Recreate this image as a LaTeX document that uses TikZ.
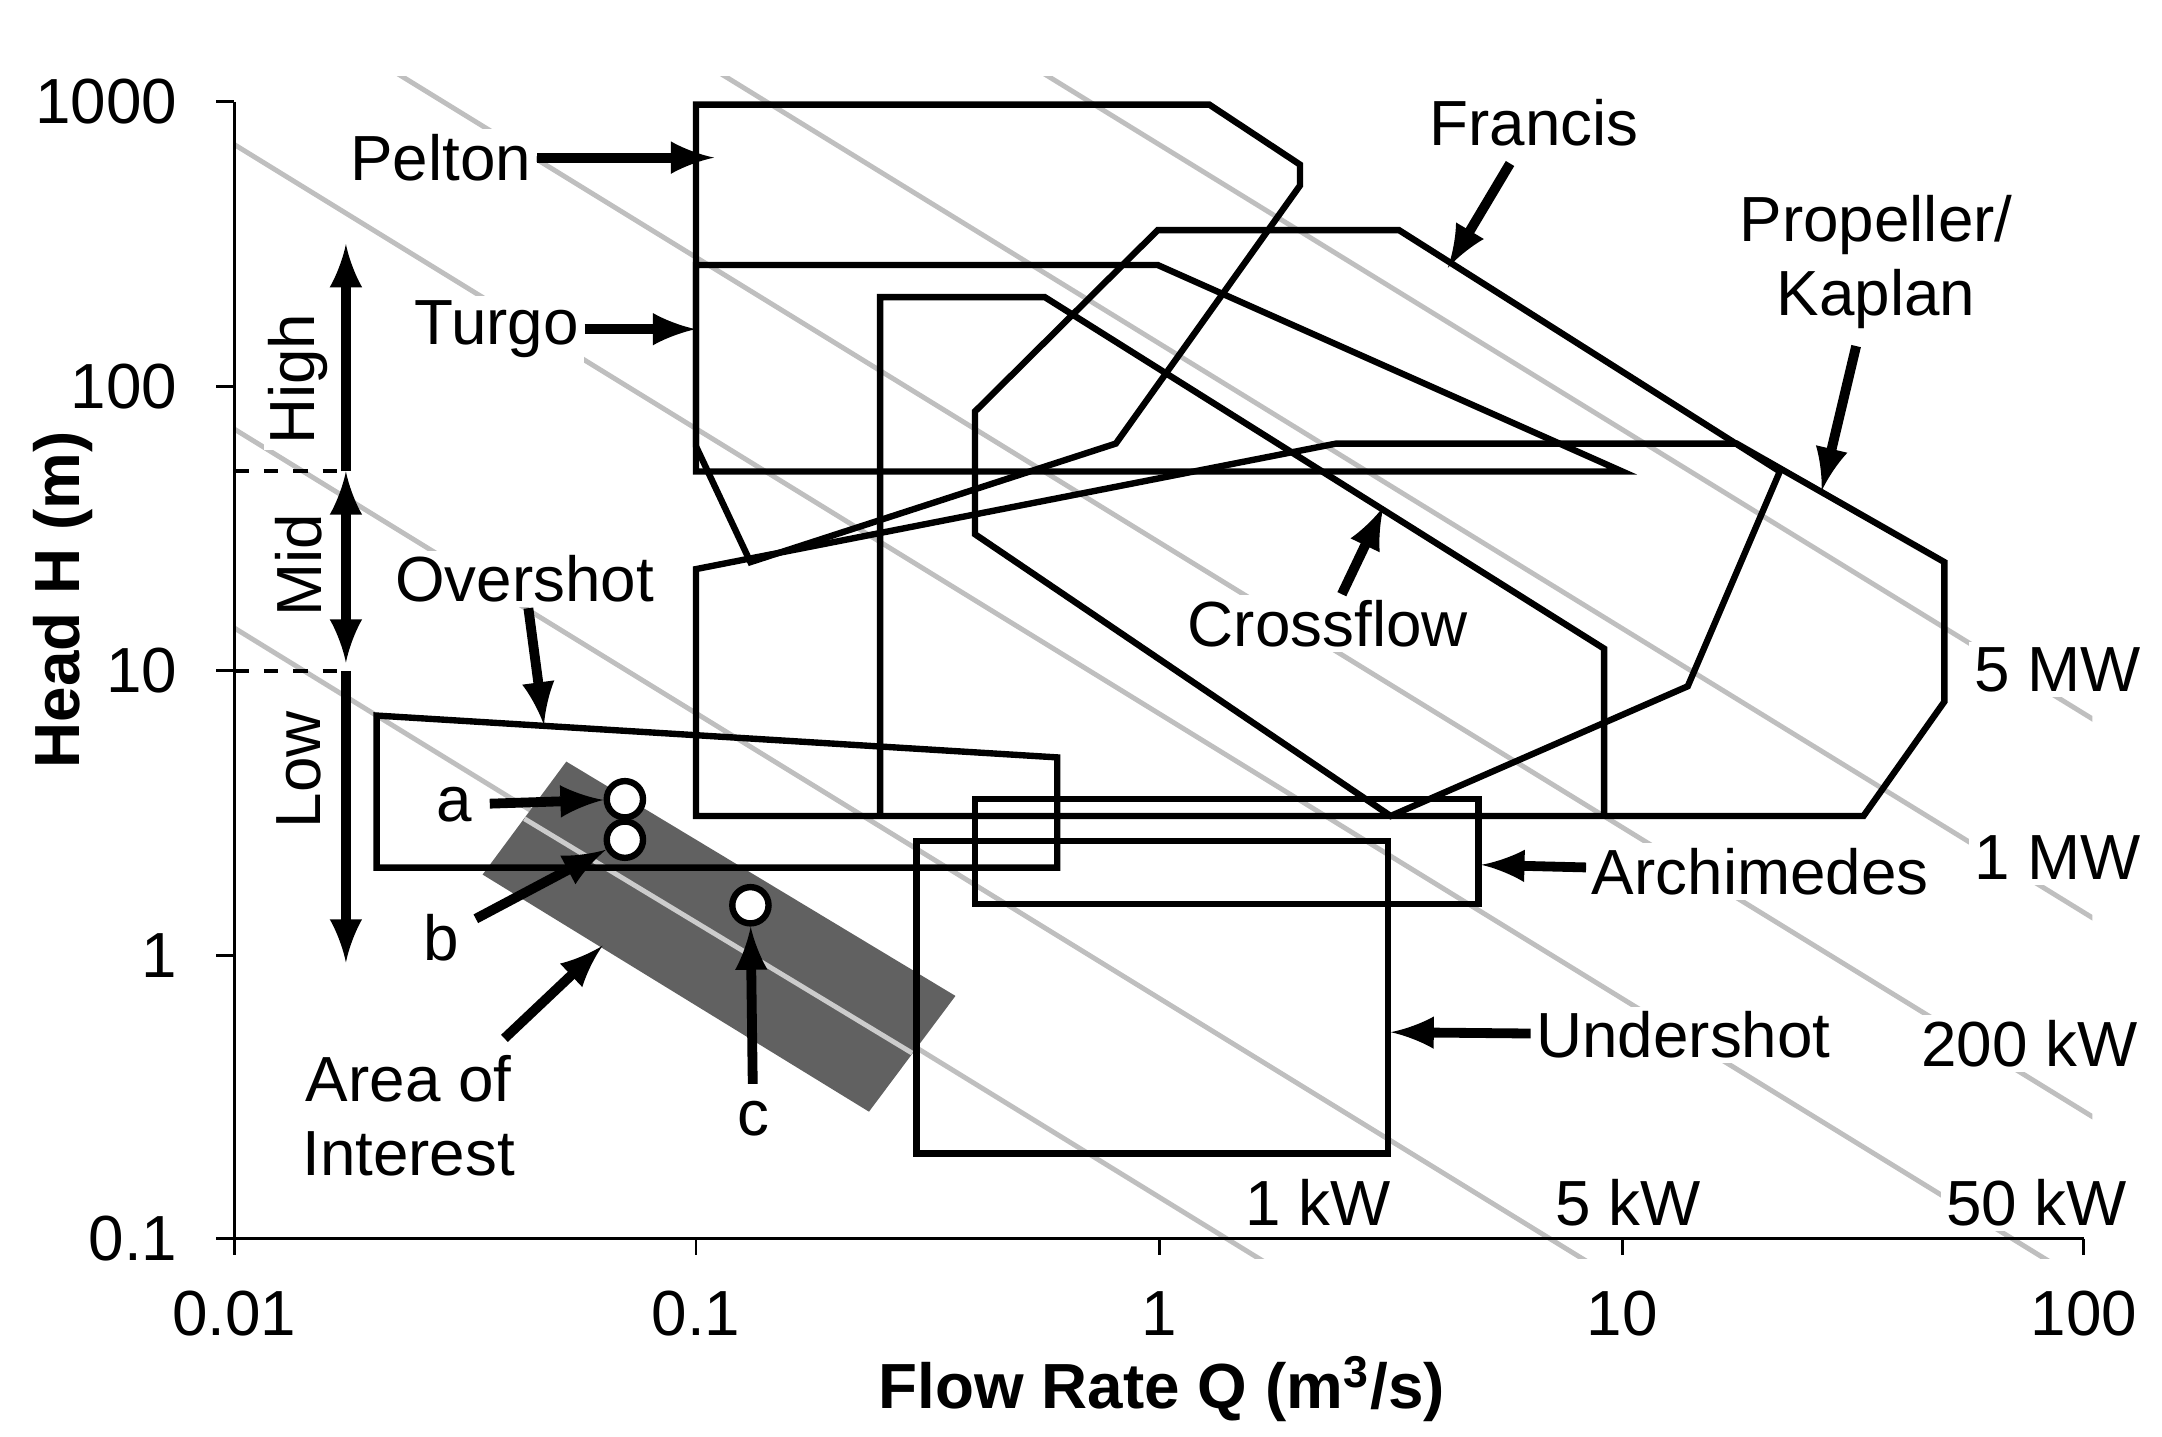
\documentclass[tikz,border=0pt]{standalone}
\usepackage{fontspec}
\setmainfont{Liberation Sans}
\usetikzlibrary{positioning,calc}

\begin{document}
\begin{tikzpicture}[x=0.01cm,y=-0.01cm,
    every node/.style={font=\fontsize{13}{15}\selectfont},
    region/.style={line width=1.3pt, line join=miter},
    powerline/.style={black!25, line width=1pt},
    pointer/.style={-latex, line width=2pt},
    tag/.style={fill=white, inner sep=1pt}]
  \useasboundingbox (0,0) rectangle (1550,1030);

  % power lines  (log10 of Q*H)
  \begin{scope}
    \clip (168,55) rectangle (1500,902);
    \foreach \k in {-0.854,-0.155,0.845,1.447,2.146,2.845}
      \draw[powerline] (-163.5,{888-204*(\k+4)}) -- (1825.5,{888-204*(\k-2)});
  \end{scope}

  % area of interest
  \fill[black!62] (346,627) -- (406,546) -- (685,714) -- (623,797) -- cycle;
  \draw[black!20, line width=1pt] (376,587) -- (654,755);

  % axes
  \draw[line width=0.6pt] (168,73) -- (168,888) -- (1494,888);
  \foreach \y/\t in {73/1000,277/100,481/10,685/1,888/0.1}
    \draw[line width=0.6pt] (155,\y) -- (168,\y) node[left=8pt] {\t};
  \foreach \x/\t in {168/0.01,499/0.1,831/1,1163/10,1494/100} {
    \draw[line width=0.6pt] (\x,888) -- (\x,900);
    \node at (\x,942) {\t};
  }
  \node[font=\fontsize{13}{15}\selectfont\bfseries] (xlab) at (833,996) {Flow Rate Q (m\textsuperscript{3}/s)};
  \node[font=\fontsize{13}{15}\selectfont\bfseries, rotate=90] (ylab) at (45,430) {Head H (m)};

  % turbine regions
  \draw[region] (499,75) -- (867,75) -- (932,118) -- (932,133) -- (800,318)
      -- (538,403) -- (499,320) -- cycle;                       % Pelton
  \draw[region] (499,190) -- (830,190) -- (1163,338) -- (499,338) -- cycle; % Turgo
  \draw[region] (699,295) -- (830,165) -- (1003,165) -- (1276,338)
      -- (1210,492) -- (997,585) -- (699,383) -- cycle;           % Francis
  \draw[region] (631,585) -- (631,213) -- (749,213) -- (1150,465) -- (1150,585); % Crossflow
  \draw[region] (499,408) -- (958,318) -- (1245,318) -- (1394,403)
      -- (1394,503) -- (1336,585) -- (499,585) -- cycle;          % Propeller
  \draw[region] (270,513) -- (758,543) -- (758,622) -- (270,622) -- cycle; % Overshot
  \draw[region] (699,573) rectangle (1060,648);                   % Archimedes
  \draw[region] (657,603) rectangle (995,827);                    % Undershot

  % head ranges
  \draw[dashed, line width=0.8pt] (168,338) -- (248,338);
  \draw[dashed, line width=0.8pt] (168,481) -- (248,481);
  \draw[pointer] (248,338) -- (248,175);
  \draw[pointer, latex-latex] (248,338) -- (248,475);
  \draw[pointer] (248,481) -- (248,690);
  \node[rotate=90, tag] (high) at (214,272) {High};
  \node[rotate=90, tag] (mid) at (214,405) {Mid};
  \node[rotate=90, tag] (low) at (214,552) {Low};

  % labels and pointers
  \node[tag] (pelton) at (316,113) {Pelton};
  \coordinate (peltonTip) at (512,113);
  \draw[pointer] (pelton) -- (peltonTip);
  \node[tag] (turgo) at (356,236) {Turgo};
  \coordinate (turgoTip) at (499,236);
  \draw[pointer] (turgo) -- (turgoTip);
  \node (francis) at (1100,88) {Francis};
  \coordinate (francisTip) at (1038,192);
  \draw[pointer] (francis) -- (francisTip);
  \node[align=center] (kaplan) at (1345,188) {Propeller/\\Kaplan};
  \coordinate (kaplanTip) at (1306,352);
  \draw[pointer] (kaplan) -- (kaplanTip);
  \node[tag] (crossflow) at (952,447) {Crossflow};
  \coordinate (crossflowTip) at (992,363);
  \draw[pointer] (crossflow) -- (crossflowTip);
  \node[tag] (overshot) at (376,415) {Overshot};
  \coordinate (overshotTip) at (390,520);
  \draw[pointer] (overshot) -- (overshotTip);
  \node[tag] (archimedes) at (1262,625) {Archimedes};
  \coordinate (archimedesTip) at (1062,620);
  \draw[pointer] (archimedes) -- (archimedesTip);
  \node[tag] (undershot) at (1207,742) {Undershot};
  \coordinate (undershotTip) at (997,740);
  \draw[pointer] (undershot) -- (undershotTip);

  % sites
  \node[circle, draw, fill=white, line width=1.3pt, minimum size=0.26cm, inner sep=0] (pa) at (448,573) {};
  \node[circle, draw, fill=white, line width=1.3pt, minimum size=0.26cm, inner sep=0] (pb) at (448,602) {};
  \node[circle, draw, fill=white, line width=1.3pt, minimum size=0.26cm, inner sep=0] (pc) at (538,649) {};
  \node (a) at (326,577) {a};
  \node (b) at (316,672) {b};
  \node (c) at (540,802) {c};
  \draw[pointer] (a) -- (pa);
  \draw[pointer] (b) -- (pb);
  \draw[pointer] (c) -- (pc);
  \node[align=center] (area) at (293,800) {Area of\\Interest};
  \coordinate (areaTip) at (432,678);
  \draw[pointer] (area.north east) ++(-20,0) -- (areaTip);

  % power labels
  \node[tag] (p5M) at (1475,480) {5 MW};
  \node[tag] (p1M) at (1475,615) {1 MW};
  \node[tag] (p200k) at (1455,748) {200 kW};
  \node[tag] (p50k) at (1460,862) {50 kW};
  \node[tag] (p5k) at (1167,862) {5 kW};
  \node[tag] (p1k) at (945,862) {1 kW};
\end{tikzpicture}
\end{document}
